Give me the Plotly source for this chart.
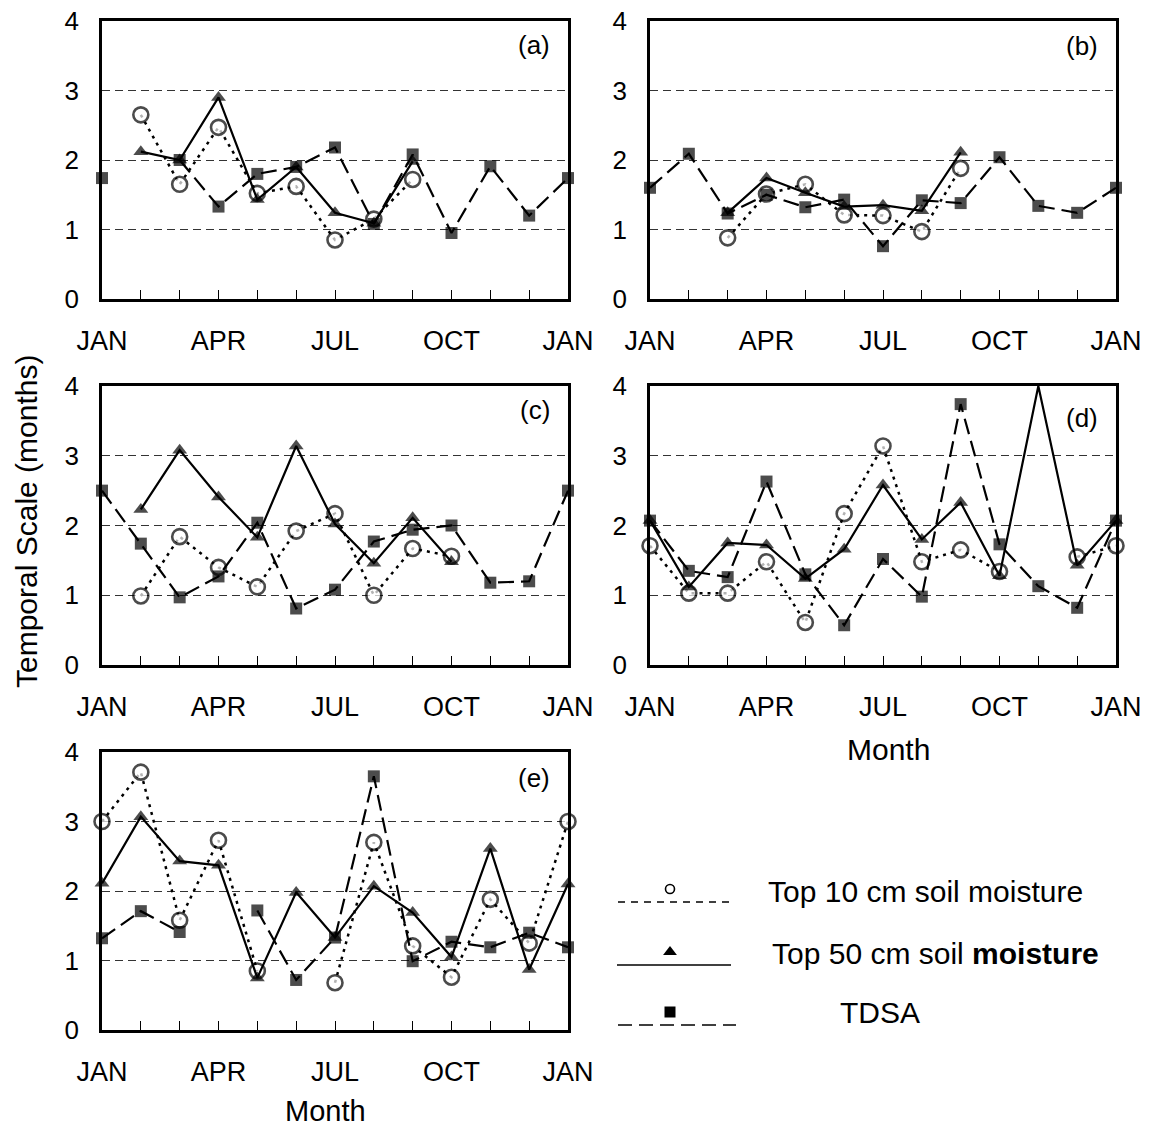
import plotly.graph_objects as go

# ---------------- data ----------------
MONTHS = list(range(13))  # JAN .. next JAN
TICK_POS = [0, 3, 6, 9, 12]
TICK_LABELS = ["JAN", "APR", "JUL", "OCT", "JAN"]
PANEL_LABELS = ["(a)", "(b)", "(c)", "(d)", "(e)"]
SERIES_NAMES = ["Top 10 cm soil moisture", "Top 50 cm soil moisture", "TDSA"]

top10_a = [None, 2.65, 1.65, 2.47, 1.52, 1.62, 0.85, 1.15, 1.72, None, None, None, None]
top50_a = [None, 2.12, 2.00, 2.90, 1.43, 1.90, 1.24, 1.09, 1.98, None, None, None, None]
tdsa_a = [1.74, None, 2.00, 1.33, 1.80, 1.90, 2.18, 1.08, 2.08, 0.95, 1.91, 1.20, 1.74]

top10_b = [None, None, 0.88, 1.51, 1.65, 1.21, 1.20, 0.97, 1.88, None, None, None, None]
top50_b = [None, None, 1.24, 1.74, 1.53, 1.33, 1.35, 1.27, 2.11, None, None, None, None]
tdsa_b = [1.60, 2.09, 1.23, 1.50, 1.32, 1.43, 0.76, 1.42, 1.38, 2.04, 1.34, 1.24, 1.60]

top10_c = [None, 0.99, 1.84, 1.40, 1.12, 1.92, 2.17, 1.00, 1.67, 1.56, None, None, None]
top50_c = [None, 2.23, 3.08, 2.41, 1.83, 3.14, 2.02, 1.46, 2.11, 1.48, None, None, None]
tdsa_c = [2.50, 1.74, 0.97, 1.27, 2.04, 0.81, 1.08, 1.77, 1.94, 2.00, 1.18, 1.20, 2.50]

top10_d = [1.71, 1.03, 1.03, 1.48, 0.61, 2.17, 3.14, 1.48, 1.65, 1.34, None, 1.55, 1.71]
top50_d = [2.07, 1.12, 1.75, 1.72, 1.24, 1.66, 2.58, 1.80, 2.33, 1.28, 4.00, 1.43, 2.07]
tdsa_d = [2.07, 1.35, 1.26, 2.63, 1.30, 0.57, 1.52, 0.98, 3.74, 1.73, 1.13, 0.82, 2.07]

top10_e = [3.00, 3.71, 1.58, 2.73, 0.85, None, 0.68, 2.70, 1.21, 0.76, 1.88, 1.25, 3.00]
top50_e = [2.11, 3.07, 2.43, 2.37, 0.75, 1.98, 1.33, 2.07, 1.69, 1.05, 2.61, 0.87, 2.10]
tdsa_e = [1.32, 1.71, 1.41, None, 1.72, 0.72, 1.33, 3.65, 0.99, 1.27, 1.19, 1.40, 1.19]

PANELS = [
    (top10_a, top50_a, tdsa_a),
    (top10_b, top50_b, tdsa_b),
    (top10_c, top50_c, tdsa_c),
    (top10_d, top50_d, tdsa_d),
    (top10_e, top50_e, tdsa_e),
]

# ---------------- layout geometry (pixels) ----------------
W, H = 1149, 1131
BOXES = [  # x0, x1, ytop, ybottom
    (102, 568, 21, 299),
    (650, 1116, 21, 299),
    (102, 568, 386, 665),
    (650, 1116, 386, 665),
    (102, 568, 752, 1030),
]
LABEL_Y = [45, 46, 410, 418, 778]

FONT = "Liberation Sans, Arial, sans-serif"
BLACK = "black"

fig = go.Figure()

STYLE = [
    dict(line=dict(color=BLACK, width=2.5, dash="3px,5px"),
         marker=dict(symbol="circle", size=15, color="white", line=dict(color=BLACK, width=2.6))),
    dict(line=dict(color=BLACK, width=2.2),
         marker=dict(symbol="triangle-up", size=13, color=BLACK, line=dict(width=0))),
    dict(line=dict(color=BLACK, width=2.2, dash="16px,7px"),
         marker=dict(symbol="square", size=12, color=BLACK, line=dict(width=0))),
]

for i, series in enumerate(PANELS):
    n = i + 1
    xa = "x" if n == 1 else f"x{n}"
    ya = "y" if n == 1 else f"y{n}"
    for k, vals in enumerate(series):
        st = STYLE[k]
        mk = dict(st["marker"])
        # a point on the top border (off-scale peak) has no visible marker
        mk["size"] = [0 if (v is not None and v >= 4) else st["marker"]["size"] for v in vals]
        fig.add_trace(go.Scatter(
            x=MONTHS, y=vals, xaxis=xa, yaxis=ya, mode="lines+markers",
            line=st["line"], marker=mk, name=SERIES_NAMES[k], showlegend=False,
            cliponaxis=False, connectgaps=False, hoverinfo="skip"))

    x0, x1, yt, yb = BOXES[i]
    xkey = "xaxis" if n == 1 else f"xaxis{n}"
    ykey = "yaxis" if n == 1 else f"yaxis{n}"
    ticktext = [TICK_LABELS[TICK_POS.index(m)] if m in TICK_POS else "" for m in MONTHS]
    fig.update_layout({
        xkey: dict(domain=[x0 / W, x1 / W], anchor=ya, range=[0, 12], automargin=False,
                   tickmode="array", tickvals=MONTHS, ticktext=ticktext,
                   ticks="inside", ticklen=9, tickwidth=1, tickcolor=BLACK,
                   showline=True, linecolor=BLACK, linewidth=2.5, mirror=True,
                   showgrid=False, zeroline=False, ticklabelstandoff=16,
                   tickfont=dict(family=FONT, size=27, color=BLACK)),
        ykey: dict(domain=[1 - yb / H, 1 - yt / H], anchor=xa, range=[0, 4], automargin=False,
                   tickmode="array", tickvals=[0, 1, 2, 3, 4],
                   ticks="", showline=True, linecolor=BLACK, linewidth=2.5, mirror=True,
                   showgrid=True, gridcolor="#333333", gridwidth=1, griddash="8px,5px",
                   zeroline=False, ticklabelstandoff=15,
                   tickfont=dict(family=FONT, size=26, color=BLACK)),
    })
    fig.add_annotation(x=(x1 - 16) / W, y=1 - LABEL_Y[i] / H, xref="paper", yref="paper",
                       text=PANEL_LABELS[i], showarrow=False, xanchor="right", yanchor="middle",
                       font=dict(family=FONT, size=26, color=BLACK))

# ---------------- axis titles ----------------
fig.add_annotation(x=26 / W, y=1 - 522 / H, xref="paper", yref="paper",
                   text="Temporal Scale (months)", textangle=-90, showarrow=False,
                   xanchor="center", yanchor="middle",
                   font=dict(family=FONT, size=30, color=BLACK))
fig.add_annotation(x=888 / W, y=1 - 749 / H, xref="paper", yref="paper", text="Month",
                   showarrow=False, xanchor="center", yanchor="middle",
                   font=dict(family=FONT, size=30, color=BLACK))
fig.add_annotation(x=325 / W, y=1 - 1111 / H, xref="paper", yref="paper", text="Month",
                   showarrow=False, xanchor="center", yanchor="middle",
                   font=dict(family=FONT, size=29, color=BLACK))

# ---------------- custom legend (pixel overlay axis) ----------------
fig.update_layout(
    xaxis6=dict(domain=[0, 1], range=[0, W], visible=False, anchor="y6",
                fixedrange=True, automargin=False),
    yaxis6=dict(domain=[0, 1], range=[H, 0], visible=False, anchor="x6",
                fixedrange=True, automargin=False),
)
LEG_LINE_Y = [902, 965, 1025]
LEG_MARK_Y = [889, 952, 1012]
LEG_LINE_X = [(618, 732), (617, 731), (618, 736)]
LEG_TEXT_X = [766, 770, 838]
LEG_TEXT_Y = [891, 953, 1012]
LEG_DASH = ["7px,6px", "solid", "14px,7px"]
LEG_MARK = [
    dict(symbol="circle", size=9, color="white", line=dict(color=BLACK, width=1.6)),
    dict(symbol="triangle-up", size=12, color=BLACK, line=dict(width=0)),
    dict(symbol="square", size=11, color=BLACK, line=dict(width=0)),
]
LEG_TEXT = ["Top 10 cm soil moisture", "Top 50 cm soil <b>moisture</b>", "TDSA"]
for k in range(3):
    fig.add_trace(go.Scatter(x=list(LEG_LINE_X[k]), y=[LEG_LINE_Y[k]] * 2, xaxis="x6", yaxis="y6",
                             mode="lines", line=dict(color=BLACK, width=1.5, dash=LEG_DASH[k]),
                             showlegend=False, hoverinfo="skip"))
    fig.add_trace(go.Scatter(x=[670], y=[LEG_MARK_Y[k]], xaxis="x6", yaxis="y6",
                             mode="markers", marker=LEG_MARK[k], showlegend=False,
                             cliponaxis=False, hoverinfo="skip"))
    fig.add_annotation(x=LEG_TEXT_X[k] / W, y=1 - LEG_TEXT_Y[k] / H, xref="paper", yref="paper",
                       text=LEG_TEXT[k], showarrow=False, xanchor="left", yanchor="middle",
                       font=dict(family=FONT, size=30, color=BLACK))

fig.update_layout(
    template="none",
    width=W, height=H, margin=dict(l=0, r=0, t=0, b=0, pad=0, autoexpand=False),
    paper_bgcolor="white", plot_bgcolor="rgba(0,0,0,0)",
    showlegend=False, font=dict(family=FONT, color=BLACK),
)

fig.write_html("out.html")
